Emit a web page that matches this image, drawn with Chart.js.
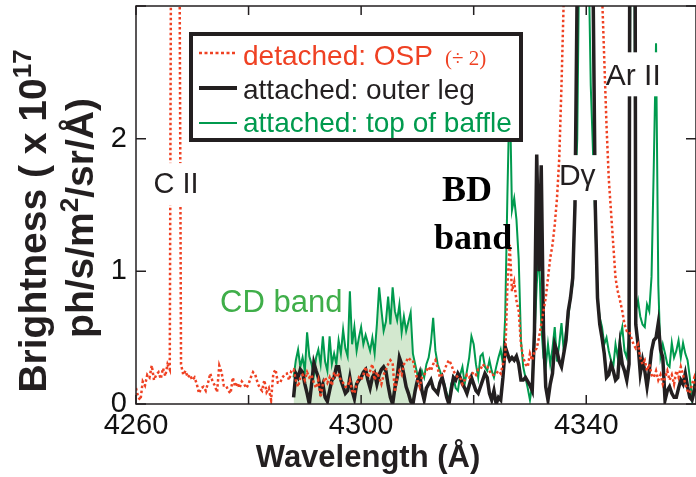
<!DOCTYPE html>
<html>
<head>
<meta charset="utf-8">
<script src="https://cdn.jsdelivr.net/npm/chart.js@4.4.1/dist/chart.umd.min.js"></script>
<style>
  html, body { margin: 0; padding: 0; background: #fff; }
</style>
</head>
<body>
<canvas id="chart" width="696" height="477"></canvas>
<script>
// spectra are sampled every 0.4 A
const step = 0.4;
const detachedStart = 4260;
const attachedStart = 4288;
const cdBandEnd = 4309.6;

const xTicks = [4260, 4280, 4300, 4320, 4340];
const xTickLabels = ['4260', '', '4300', '', '4340'];
const yTicks = [0, 1, 2, 3];
const yTickLabels = ['0', '1', '2', ''];

// detached: OSP (already divided by 2), x 1e17 ph/s/m2/sr/A
const detachedOSP = [
  0.12, 0.05, 0.03, 0.17, 0.14, 0.22, 0.2, 0.29, 0.18, 0.22,
  0.24, 0.19, 0.27, 0.21, 0.3, 0.26, 6, 10, 10, 5,
  0.3, 0.22, 0.25, 0.2, 0.22, 0.18, 0.2, 0.15, 0.08, 0.12,
  0.13, 0.1, 0.16, 0.23, 0.17, 0.14, 0.09, 0.29, 0.24, 0.14,
  0.14, 0.1, 0.08, 0.2, 0.13, 0.16, 0.12, 0.17, 0.15, 0.12,
  0.15, 0.2, 0.24, 0.22, 0.16, 0.12, 0.1, 0.18, 0.09, 0.12,
  0.03, 0.23, 0.26, 0.16, 0.16, 0.2, 0.22, 0.23, 0.18, 0.25,
  0.26, 0.18, 0.13, 0.2, 0.22, 0.18, 0.24, 0.2, 0.22, 0.16,
  0.12, 0.18, 0.05, 0.15, 0.2, 0.16, 0.2, 0.14, 0.24, 0.2,
  0.22, 0.18, 0.16, 0.13, 0.13, 0.18, 0.1, 0.08, 0.15, 0.2,
  0.18, 0.22, 0.28, 0.2, 0.25, 0.3, 0.18, 0.24, 0.2, 0.15,
  0.22, 0.26, 0.3, 0.33, 0.31, 0.09, 0.2, 0.25, 0.22, 0.3,
  0.32, 0.35, 0.33, 0.33, 0.25, 0.18, 0.13, 0.2, 0.22, 0.25,
  0.28, 0.25, 0.3, 0.33, 0.27, 0.2, 0.22, 0.25, 0.3, 0.33,
  0.3, 0.25, 0.22, 0.2, 0.2, 0.15, 0.18, 0.22, 0.2, 0.22,
  0.24, 0.22, 0.26, 0.26, 0.3, 0.28, 0.28, 0.25, 0.22, 0.22,
  0.23, 0.25, 0.23, 0.3, 0.35, 0.9, 1.2, 0.85, 0.92, 0.78,
  0.7, 0.45, 0.35, 0.3, 0.28, 0.38, 0.33, 0.4, 0.42, 0.5,
  0.6, 0.7, 0.8, 0.95, 1.1, 1.2, 1.35, 1.55, 1.85, 2.4,
  3.05, 3.6, 4.2, 4.8, 5.5, 6.2, 7, 7.5, 8, 8,
  8, 8, 7.5, 6.5, 5.5, 4.5, 3.7, 3.1, 2.6, 2.1,
  1.7, 1.45, 1.2, 0.95, 0.85, 0.78, 0.7, 0.6, 0.55, 0.55,
  0.5, 0.45, 0.42, 0.45, 0.35, 0.3, 0.33, 0.25, 0.3, 0.22,
  0.2, 0.25, 0.18, 0.22, 0.15, 0.2, 0.25, 0.18, 0.22, 0.15,
  0.25, 0.2, 0.28, 0.22, 0.15, 0.1, 0.08, 0.15, 0.2, 0.1
];

// attached: outer leg
const outerLeg = [
  0.05, 0.23, 0.2, 0.26, 0.24, 0.15, 0.08, 0.0, 0.15, 0.31,
  0.25, 0.2, 0.1, 0.15, 0.05, 0.02, 0.1, 0.18, 0.2, 0.28,
  0.28, 0.18, 0.13, 0.08, 0.1, 0.2, 0.1, 0.04, 0.15, 0.18,
  0.2, 0.24, 0.26, 0.18, 0.12, 0.2, 0.23, 0.15, 0.22, 0.26,
  0.28, 0.25, 0.14, 0.05, 0.0, 0.12, 0.2, 0.35, 0.3, 0.22,
  0.13, 0.08, 0.02, 0.0, 0.1, 0.18, 0.23, 0.1, 0.03, 0.12,
  0.15, 0.18, 0.12, 0.1, 0.08, 0.16, 0.2, 0.13, 0.05, 0.0,
  0.1, 0.2, 0.18, 0.23, 0.2, 0.15, 0.12, 0.08, 0.14, 0.2,
  0.15, 0.1, 0.08, 0.13, 0.18, 0.23, 0.2, 0.08, 0.03, 0.1,
  0.0, 0.05, 0.03, 0.2, 0.43, 0.38, 0.33, 0.35, 0.33, 0.36,
  0.3, 0.18, 0.18, 0.2, 0.17, 0.14, 0.1, 0.55, 1.88, 1.0,
  1.8, 0.55, 0.13, 0.03, 0.15, 0.23, 0.45, 0.4, 0.32, 0.28,
  0.38, 0.48, 0.7, 0.8, 0.95, 1.5, 3.2, 5, 7, 8,
  8, 8, 6, 3.2, 1.5, 0.8, 0.6, 0.5, 0.38, 0.2,
  0.22, 0.3, 0.25, 0.18, 0.2, 0.43, 0.3, 0.25, 0.18, 0.3,
  10, 10, 0.6, 0.45, 0.23, 0.33, 0.25, 0.13, 0.25, 0.4,
  0.48, 0.5, 0.61, 0.41, 0.35, 0.03, 0.1, 0.13, 0.08, 0.05,
  0.05, 0.12, 0.18, 0.15, 0.23, 0.13, 0.05, 0.03, 0.1, 0.2
];

// attached: top of baffle
const topOfBaffle = [
  0.2, 0.33, 0.41, 0.28, 0.35, 0.25, 0.54, 0.36, 0.3, 0.22,
  0.35, 0.41, 0.3, 0.51, 0.32, 0.25, 0.51, 0.3, 0.38, 0.3,
  0.48, 0.38, 0.56, 0.42, 0.36, 0.85, 0.45, 0.58, 0.4, 0.5,
  0.58, 0.45, 0.52, 0.46, 0.4, 0.5, 0.38, 0.6, 0.88, 0.71,
  0.55, 0.62, 0.81, 0.6, 0.88, 0.7, 0.63, 0.75, 0.54, 0.66,
  0.55, 0.62, 0.69, 0.38, 0.3, 0.22, 0.18, 0.25, 0.2, 0.3,
  0.35, 0.46, 0.65, 0.4, 0.3, 0.25, 0.2, 0.15, 0.08, 0.03,
  0.15, 0.2, 0.12, 0.1, 0.22, 0.28, 0.15, 0.25, 0.35, 0.51,
  0.45, 0.3, 0.2, 0.36, 0.38, 0.28, 0.25, 0.33, 0.25, 0.2,
  0.28, 0.35, 0.41, 0.3, 0.66, 1.6, 2.4, 1.46, 1.55, 1.39,
  1.09, 0.48, 0.28, 0.2, 0.12, 0.03, 0.15, 0.5, 0.9, 1.16,
  0.6, 0.35, 0.28, 0.45, 0.3, 0.42, 0.58, 0.32, 0.45, 0.61,
  0.4, 0.55, 0.65, 0.8, 0.91, 1.55, 2.0, 3.6, 6, 7,
  7, 3.4, 2.4, 1.9, 1.4, 0.8, 0.65, 0.58, 0.45, 0.5,
  0.4, 0.33, 0.28, 0.45, 0.35, 0.5, 0.58, 0.4, 0.35, 0.5,
  5, 5, 0.7, 0.78, 0.66, 0.6, 0.58, 0.75, 0.7, 0.96,
  1.8, 2.72, 0.9, 0.36, 0.45, 0.38, 0.3, 0.28, 0.46, 0.35,
  0.4, 0.48, 0.35, 0.46, 0.38, 0.33, 0.2, 0.03, 0.15, 0.25
];

const RED = '#ef4123';
const BLACK = '#231f20';
const GREEN = '#009a4e';
const SANS = "'Liberation Sans', Arial, Helvetica, sans-serif";
const SERIF = "'Liberation Serif', 'Times New Roman', serif";

function toPoints(start, values) {
  return values.map((v, i) => ({ x: +(start + i * step).toFixed(1), y: v }));
}

const redPts = toPoints(detachedStart, detachedOSP);
const blackPts = toPoints(attachedStart, outerLeg);
const greenPts = toPoints(attachedStart, topOfBaffle);
const cdFillPts = greenPts.filter(p => p.x <= cdBandEnd);

// text notes anchored in data coordinates (wavelength, brightness)
const notes = [
  { text: 'C II', x: 4267.1, y: 1.65, font: '29px ' + SANS, color: BLACK, mask: [-26, -22, 52, 42] },
  { text: 'Dγ', x: 4338.4, y: 1.71, font: '30px ' + SANS, color: BLACK, mask: [-14, -22, 35, 45] },
  { text: 'Ar II', x: 4348.35, y: 2.47, font: '30px ' + SANS, color: BLACK, mask: [-26, -24, 55, 44] },
  { text: 'CD band', x: 4285.8, y: 0.76, font: '31px ' + SANS, color: '#3fae49' },
  { text: 'BD', x: 4318.8, y: 1.6, font: 'bold 36px ' + SERIF, color: '#000' },
  { text: 'band', x: 4319.9, y: 1.24, font: 'bold 36px ' + SERIF, color: '#000' }
];

const legendItems = [
  { text: 'detached: OSP', color: RED, dash: [3, 2.5], width: 2.5 },
  { text: 'attached: outer leg', color: BLACK, dash: [], width: 4 },
  { text: 'attached: top of baffle', color: GREEN, dash: [], width: 2 }
];

function drawSupText(ctx, parts, cx, cy, size) {
  // rotated title, parts = [text, isSuperscript]
  ctx.save();
  ctx.translate(cx, cy);
  ctx.rotate(-Math.PI / 2);
  ctx.textBaseline = 'alphabetic';
  ctx.textAlign = 'left';
  const fonts = parts.map(p => 'bold ' + (p[1] ? Math.round(size * 0.66) : size) + 'px ' + SANS);
  let total = 0;
  parts.forEach((p, i) => { ctx.font = fonts[i]; total += ctx.measureText(p[0]).width; });
  let pos = -total / 2;
  parts.forEach((p, i) => {
    ctx.font = fonts[i];
    ctx.fillText(p[0], pos, p[1] ? -size * 0.38 : 0);
    pos += ctx.measureText(p[0]).width;
  });
  ctx.restore();
}

const decorations = {
  id: 'decorations',
  afterDatasetsDraw(chart) {
    const { ctx, chartArea: a, scales: { x, y } } = chart;
    ctx.save();

    // notes with white gaps behind them
    notes.forEach(n => {
      const px = x.getPixelForValue(n.x);
      const py = y.getPixelForValue(n.y);
      if (n.mask) {
        ctx.fillStyle = '#fff';
        ctx.fillRect(px + n.mask[0], py + n.mask[1], n.mask[2], n.mask[3]);
      }
      ctx.font = n.font;
      ctx.fillStyle = n.color;
      ctx.textAlign = 'center';
      ctx.textBaseline = 'middle';
      ctx.fillText(n.text, px, py);
    });

    // frame and inward ticks
    ctx.strokeStyle = BLACK;
    ctx.lineWidth = 1.5;
    ctx.setLineDash([]);
    ctx.strokeRect(a.left, a.top, a.right - a.left, a.bottom - a.top);
    ctx.beginPath();
    xTicks.forEach(v => {
      const px = x.getPixelForValue(v);
      ctx.moveTo(px, a.bottom); ctx.lineTo(px, a.bottom - 9);
      ctx.moveTo(px, a.top); ctx.lineTo(px, a.top + 9);
    });
    yTicks.forEach(v => {
      const py = y.getPixelForValue(v);
      ctx.moveTo(a.left, py); ctx.lineTo(a.left + 10, py);
      ctx.moveTo(a.right, py); ctx.lineTo(a.right - 10, py);
    });
    ctx.stroke();

    // legend box
    ctx.fillStyle = '#fff';
    ctx.fillRect(189, 32, 334, 110);
    ctx.lineWidth = 4;
    ctx.strokeStyle = BLACK;
    ctx.strokeRect(191, 34, 330, 106);
    legendItems.forEach((it, i) => {
      const ly = 53 + i * 35;
      ctx.beginPath();
      ctx.setLineDash(it.dash);
      ctx.lineWidth = it.width;
      ctx.strokeStyle = it.color;
      ctx.moveTo(199, ly); ctx.lineTo(237, ly);
      ctx.stroke();
      ctx.setLineDash([]);
      ctx.font = '28px ' + SANS;
      ctx.fillStyle = it.color;
      ctx.textAlign = 'left';
      ctx.textBaseline = 'alphabetic';
      ctx.fillText(it.text, 243, 65 + i * 33.5);
    });
    ctx.font = '21px ' + SERIF;
    ctx.fillStyle = RED;
    ctx.fillText('(÷ 2)', 445, 65);

    // axis titles
    ctx.fillStyle = BLACK;
    ctx.font = 'bold 31px ' + SANS;
    ctx.textAlign = 'center';
    ctx.textBaseline = 'middle';
    ctx.fillText('Wavelength (Å)', 368, 458);
    drawSupText(ctx, [['Brightness ( x 10', false], ['17', true]], 46, 221, 39);
    drawSupText(ctx, [['ph/s/m', false], ['2', true], ['/sr/Å)', false]], 93, 218, 39);

    ctx.restore();
  }
};

new Chart(document.getElementById('chart'), {
  type: 'line',
  data: {
    datasets: [
      {
        label: 'detached: OSP (÷ 2)',
        data: redPts,
        borderColor: RED,
        borderWidth: 2.5,
        borderDash: [2.5, 2.5],
        order: 0
      },
      {
        label: 'attached: outer leg',
        data: blackPts,
        borderColor: BLACK,
        borderWidth: 3.5,
        order: 1
      },
      {
        label: 'attached: top of baffle',
        data: greenPts,
        borderColor: GREEN,
        borderWidth: 2,
        order: 2
      },
      {
        label: 'CD band',
        data: cdFillPts,
        borderWidth: 0,
        borderColor: 'rgba(0,0,0,0)',
        backgroundColor: '#d3e8cf',
        fill: 'origin',
        order: 3
      }
    ]
  },
  options: {
    responsive: false,
    animation: false,
    devicePixelRatio: 1,
    layout: { padding: { top: 6, right: 0, left: 0, bottom: 0 } },
    elements: { point: { radius: 0 }, line: { tension: 0 } },
    plugins: { legend: { display: false }, tooltip: { enabled: false } },
    scales: {
      x: {
        type: 'linear',
        min: 4260,
        max: 4359.5,
        grid: { display: false, drawTicks: false },
        border: { display: false },
        afterBuildTicks: axis => { axis.ticks = xTicks.map(v => ({ value: v })); },
        afterFit: scale => { scale.height = 73; scale.paddingLeft = 0; scale.paddingRight = 0; },
        ticks: {
          autoSkip: false,
          maxRotation: 0,
          padding: 5,
          color: '#111',
          font: { family: SANS, size: 29 },
          callback: v => xTickLabels[xTicks.indexOf(v)] || ''
        }
      },
      y: {
        min: 0,
        max: 3,
        grid: { display: false, drawTicks: false },
        border: { display: false },
        afterBuildTicks: axis => { axis.ticks = yTicks.map(v => ({ value: v })); },
        afterFit: scale => { scale.width = 136; scale.paddingTop = 0; scale.paddingBottom = 0; },
        ticks: {
          padding: 9,
          color: '#111',
          font: { family: SANS, size: 29 },
          callback: v => yTickLabels[yTicks.indexOf(v)] || ''
        }
      }
    }
  },
  plugins: [decorations]
});
</script>
</body>
</html>
